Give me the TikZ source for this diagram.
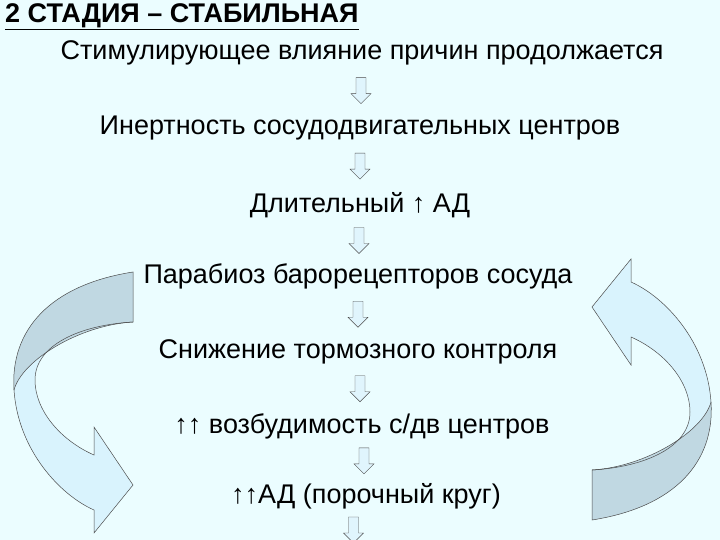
\documentclass[tikz,border=0pt]{standalone}
\usepackage{fontspec}
\setmainfont{Liberation Sans}
\begin{document}
\begin{tikzpicture}[x=1pt,y=-1pt,
  lbl/.style={font=\fontsize{27}{30}\selectfont, inner sep=1pt},
  darr/.style={draw=black!70, fill=cyan!12, line width=0.4pt},
  band/.style={draw=black!70, line width=0.5pt}]
\fill[blue!10!cyan!8] (0,0) rectangle (720,540);
\useasboundingbox (0,0) rectangle (720,540);
\node[lbl, anchor=west] (t) at (4,17) {\textbf{\underline{2 СТАДИЯ – СТАБИЛЬНАЯ}}};
\node[lbl] (a) at (362,53) {Стимулирующее влияние причин продолжается};
\node[lbl] (b) at (360,128) {Инертность сосудодвигательных центров};
\node[lbl] (c) at (360,205) {Длительный ↑ АД};
\node[lbl] (d) at (358,276) {Парабиоз барорецепторов сосуда};
\node[lbl] (e) at (358,352) {Снижение тормозного контроля};
\node[lbl] (f) at (362,426) {↑↑ возбудимость с/дв центров};
\node[lbl] (g) at (366,496) {↑↑АД (порочный круг)};
\coordinate (h) at (341,550);
\foreach \p/\q in {a/b,b/c,c/d,d/e,e/f,f/g,g/h}{
  \path (\p.south) -- (\q.north) coordinate[pos=0.5] (m);
  \draw[darr] ([shift={(-5,-13)}]m) -- ([shift={(5,-13)}]m) -- ([shift={(5,3)}]m)
    -- ([shift={(10,3)}]m) -- ([shift={(0,13)}]m) -- ([shift={(-10,3)}]m) -- ([shift={(-5,3)}]m) -- cycle;
}
\def\arrowpath{(133,272) .. controls (50,285) and (10,330) .. (14,390) .. controls (18,450) and (60,495) .. (94,510) -- (94,533) -- (133,485) -- (94,427) -- (94,455) .. controls (60,440) and (35,410) .. (35,380) .. controls (35,345) and (80,325) .. (133,322) -- cycle}
\def\twistpath{(133,272) .. controls (50,285) and (10,330) .. (14,390) .. controls (22,360) and (80,325) .. (133,322) -- cycle}
\foreach \ang in {0,180}{
\begin{scope}[rotate around={\ang:(362.5,396)}]
\fill[cyan!15] \arrowpath;
\fill[gray!60!cyan!40] \twistpath;
\draw[band] \arrowpath;
\draw[band] (14,390) .. controls (22,360) and (80,325) .. (133,322);
\end{scope}}
\end{tikzpicture}
\end{document}
